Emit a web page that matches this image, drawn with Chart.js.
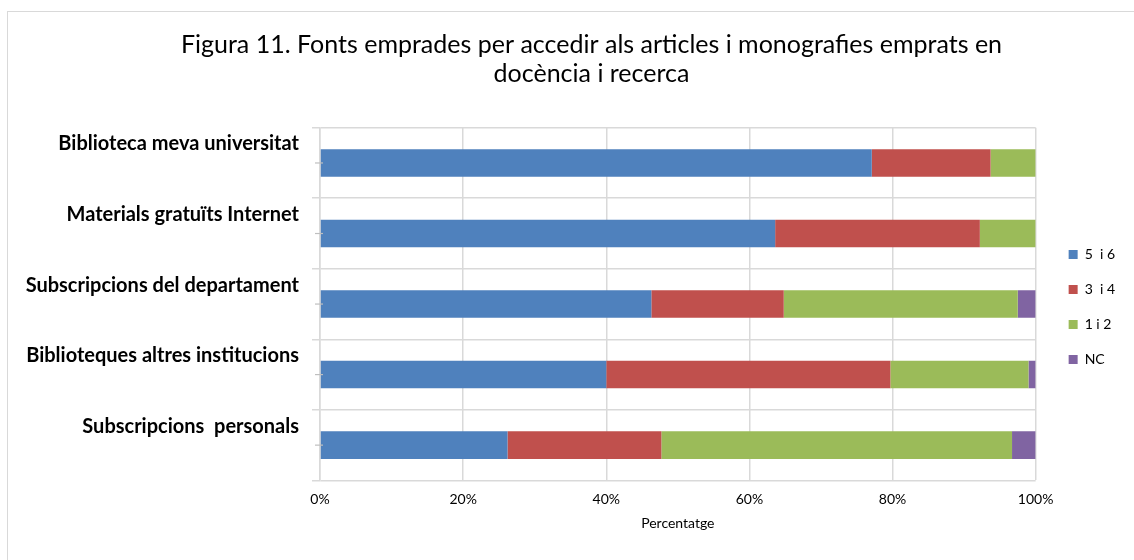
<!DOCTYPE html>
<html>
<head>
<meta charset="utf-8">
<script src="https://cdn.jsdelivr.net/npm/chart.js@4"></script>
<style>
  html, body { margin: 0; padding: 0; background: #fff; }
  #wrap { position: relative; width: 1134px; height: 560px; overflow: hidden; }
  #frame { position: absolute; left: 7px; top: 11px; width: 1200px; height: 600px; border: 1px solid #d9d9d9; box-sizing: border-box; pointer-events: none; }
  canvas { position: absolute; left: 0; top: 0; }
</style>
</head>
<body>
<div id="wrap">
  <div id="frame"></div>
  <canvas id="c" width="1134" height="560"></canvas>
</div>
<script>
const categories = [
  "Biblioteca meva universitat",
  "Materials gratuïts Internet",
  "Subscripcions del departament",
  "Biblioteques altres institucions",
  "Subscripcions  personals"
];
const seriesNames = ["5  i 6", "3  i 4", "1 i 2", "NC"];
const s56 = [77.1, 63.6, 46.3, 40.0, 26.2];
const s34 = [16.6, 28.6, 18.5, 39.7, 21.5];
const s12 = [6.3, 7.8, 32.7, 19.3, 49.0];
const sNC = [0, 0, 2.5, 1.0, 3.3];
const xTicks = [0, 20, 40, 60, 80, 100];
const titleLines = ["Figura 11. Fonts emprades per accedir als articles i monografies emprats en", "docència i recerca"];
const xTitle = "Percentatge";

const colors = ["#4F81BD", "#C0504D", "#9BBB59", "#8064A2"];
const FONT = "Lato";

const tweaks = {
  id: 'tweaks',
  afterLayout(chart) {
    if (chart.legend) {
      chart.legend.left += 12; chart.legend.right += 12;
      chart.legend.top += 3; chart.legend.bottom += 3;
    }
    if (chart.titleBlock) { chart.titleBlock.left += 31; chart.titleBlock.right += 31; }
  },
  afterDraw(chart) {
    const y = chart.scales.y, ctx = chart.ctx;
    ctx.save();
    ctx.strokeStyle = '#bfbfbf';
    ctx.lineWidth = 1.2;
    for (let i = 0; i < categories.length; i++) {
      const py = y.getPixelForValue(i);
      ctx.beginPath();
      ctx.moveTo(chart.chartArea.left - 5, py);
      ctx.lineTo(chart.chartArea.left + 3, py);
      ctx.stroke();
    }
    ctx.restore();
  }
};

new Chart(document.getElementById('c'), {
  type: 'bar',
  data: {
    labels: categories,
    datasets: [s56, s34, s12, sNC].map((d, i) => ({
      label: seriesNames[i],
      data: d,
      backgroundColor: colors[i],
      borderWidth: 0,
      categoryPercentage: 1,
      barPercentage: 0.39
    }))
  },
  options: {
    indexAxis: 'y',
    responsive: false,
    animation: false,
    devicePixelRatio: 1,
    layout: { padding: { left: 8, right: 21, top: 15, bottom: 28 } },
    plugins: {
      title: {
        display: true,
        text: titleLines,
        color: '#000',
        font: { family: FONT, size: 25, weight: 'normal', lineHeight: 1.134 },
        padding: { top: 16, bottom: 40 }
      },
      legend: {
        position: 'right',
        fullSize: false,
        labels: {
          boxWidth: 9, boxHeight: 9,
          padding: 21,
          color: '#000',
          font: { family: FONT, size: 14 }
        }
      },
      tooltip: { enabled: false }
    },
    scales: {
      x: {
        stacked: true,
        min: 0, max: 100,
        afterBuildTicks(scale) { scale.ticks = xTicks.map(v => ({ value: v })); },
        ticks: {
          callback: v => v + '%',
          color: '#000',
          font: { family: FONT, size: 14 },
          padding: 11
        },
        grid: { color: '#d9d9d9', lineWidth: 1.5, drawTicks: false },
        border: { display: false },
        title: { display: true, text: xTitle, color: '#000', font: { family: FONT, size: 14 }, padding: { top: -4, bottom: 0 } }
      },
      y: {
        stacked: true,
        afterFit(scale) { scale.width = 312; },
        ticks: {
          color: '#000',
          font: { family: FONT, size: 20, weight: 'bold' },
          padding: 13,
          labelOffset: -19,
          autoSkip: false
        },
        grid: { color: '#d9d9d9', lineWidth: 1.5, tickLength: 8, offset: true },
        border: { color: '#d9d9d9', width: 1.5 }
      }
    }
  },
  plugins: [tweaks]
});
</script>
</body>
</html>
